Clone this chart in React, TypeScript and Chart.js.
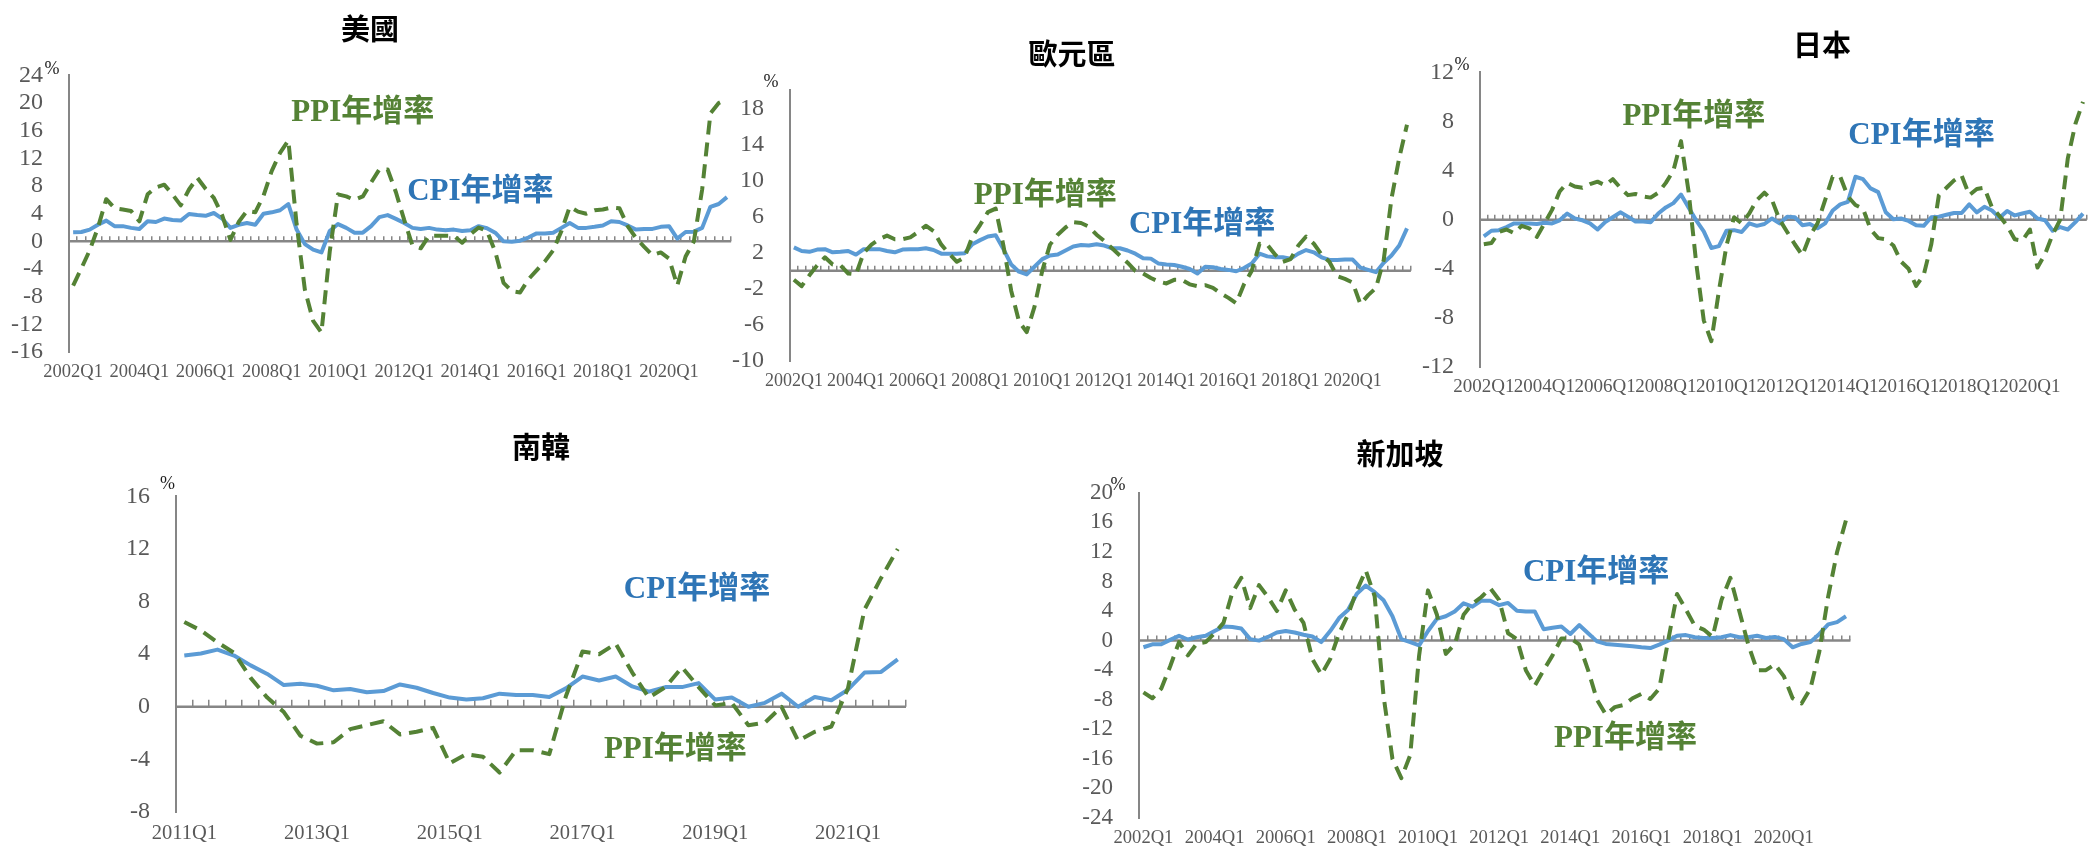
import React, { useEffect, useRef } from "react";
import { Chart, registerables } from "chart.js";

Chart.register(...registerables);

// Quarter category labels, e.g. "2002Q1" ... "2021Q4"
const quarterRange = (from: number, to: number): string[] => {
  const out: string[] = [];
  for (let y = from; y <= to; y++) for (let q = 1; q <= 4; q++) out.push(`${y}Q${q}`);
  return out;
};

const QUARTERS_2002 = quarterRange(2002, 2021);
const QUARTERS_2011 = quarterRange(2011, 2021);

// y-axis tick values per panel
const US_TICKS = [-16, -12, -8, -4, 0, 4, 8, 12, 16, 20, 24];
const EU_TICKS = [-10, -6, -2, 2, 6, 10, 14, 18];
const JP_TICKS = [-12, -8, -4, 0, 4, 8, 12];
const KR_TICKS = [-8, -4, 0, 4, 8, 12, 16];
const SG_TICKS = [-24, -20, -16, -12, -8, -4, 0, 4, 8, 12, 16, 20];

// 美國 (2002Q1–2021Q4), % y/y
const usCpi = [
  1.3, 1.35, 1.7, 2.4, 3.0, 2.2, 2.2, 1.95,
  1.8, 2.9, 2.8, 3.3, 3.1, 3.0, 3.95, 3.8,
  3.7, 4.1, 3.3, 1.95, 2.4, 2.65, 2.4, 4.0,
  4.2, 4.5, 5.4, 1.7, -0.4, -1.2, -1.6, 1.5,
  2.5, 1.95, 1.26, 1.26, 2.2, 3.5, 3.8, 3.25,
  2.65, 1.95, 1.8, 1.95, 1.7, 1.6, 1.7, 1.5,
  1.6, 2.2, 1.9, 1.25, 0.0, -0.05, 0.1, 0.55,
  1.15, 1.15, 1.25, 1.95, 2.65, 1.95, 1.95, 2.1,
  2.3, 2.9, 2.8, 2.3, 1.7, 1.8, 1.8, 2.1,
  2.2, 0.4, 1.35, 1.4, 1.95, 5.0, 5.4, 6.4,
];
const usPpi = [
  -6.4, -3.9, -1.3, 2.0, 6.1, 4.8, 4.6, 4.4,
  2.9, 6.8, 7.8, 8.2, 6.8, 5.2, 7.5, 9.2,
  7.6, 6.3, 3.8, 0.2, 2.8, 4.4, 4.2, 6.6,
  10.2, 12.8, 14.6, 2.5, -7.0, -11.5, -13.2, -1.5,
  6.8, 6.5, 6.0, 6.5, 8.5, 10.4, 10.4, 7.1,
  3.1, -0.6, -1.0, 0.8, 0.8, 0.8, 0.8, -0.2,
  1.0, 2.0, 1.5, -1.5, -6.0, -7.2, -7.4, -5.5,
  -4.2, -2.9, -1.3, 1.5, 5.0, 4.3, 4.0, 4.5,
  4.6, 4.9, 4.8, 2.2, 0.5, -0.8, -2.0, -1.6,
  -2.5, -6.4, -2.2, 0.0, 7.5, 18.5, 20.0, 20.6,
];

// 歐元區 (2002Q1–2021Q4)
const euCpi = [
  2.6, 2.2, 2.1, 2.35, 2.4, 2.05, 2.1, 2.2,
  1.8, 2.4, 2.4, 2.4, 2.2, 2.05, 2.35, 2.4,
  2.4, 2.5, 2.3, 1.9, 1.9, 1.9, 1.95, 2.95,
  3.4, 3.8, 3.95, 2.4, 0.7, -0.1, -0.4, 0.45,
  1.3, 1.7, 1.8, 2.25, 2.7, 2.85, 2.8, 2.95,
  2.8, 2.5, 2.5, 2.25, 1.9, 1.4, 1.35, 0.8,
  0.7, 0.65, 0.45, 0.2, -0.3, 0.45, 0.4, 0.2,
  0.1, -0.05, 0.3, 0.8, 1.9, 1.6, 1.5, 1.5,
  1.35, 1.9, 2.3, 2.05, 1.5, 1.2, 1.2, 1.25,
  1.25, 0.35, 0.1, -0.15, 0.9, 1.7, 2.8, 4.7,
];
const euPpi = [
  -1.0, -1.7, -0.5, 0.6, 1.5, 0.7, 0.6, -0.3,
  -0.4, 2.0, 2.9, 3.5, 3.9, 3.5, 3.5, 3.7,
  4.3, 5.0, 4.4, 2.9, 1.9, 1.0, 1.5, 3.8,
  5.1, 6.5, 6.9, 2.8, -2.2, -5.6, -6.8, -4.0,
  0.0, 2.9, 4.0, 4.8, 5.4, 5.3, 4.9, 4.0,
  3.3, 2.5, 1.7, 0.9, 0.0, -0.3, -0.8, -1.2,
  -1.4, -1.0, -1.0, -1.5, -1.7, -1.6, -1.9, -2.5,
  -3.0, -3.6, -1.5, 0.0, 3.0, 2.9, 1.8, 1.0,
  1.3, 2.8, 3.8, 3.0, 1.8, 1.0, -0.6, -0.9,
  -1.3, -3.7, -2.7, -1.9, 1.2, 8.0, 12.5, 16.2,
];

// 日本 (2002Q1–2021Q4)
const jpCpi = [
  -1.35, -0.9, -0.85, -0.6, -0.3, -0.3, -0.3, -0.35,
  -0.25, -0.3, -0.05, 0.5, 0.1, -0.05, -0.3, -0.8,
  -0.2, 0.2, 0.6, 0.25, -0.15, -0.15, -0.2, 0.5,
  1.0, 1.35, 2.05, 1.0, -0.05, -0.95, -2.3, -2.15,
  -0.9, -0.85, -1.0, -0.3, -0.5, -0.35, 0.1, -0.3,
  0.25, 0.2, -0.45, -0.35, -0.7, -0.3, 0.75, 1.25,
  1.45, 3.5, 3.3, 2.55, 2.25, 0.6, 0.03, 0.1,
  -0.1, -0.45, -0.5, 0.2, 0.25, 0.4, 0.55, 0.55,
  1.25, 0.6, 1.05, 0.75, 0.15, 0.7, 0.35, 0.5,
  0.65, 0.1, -0.05, -0.9, -0.6, -0.8, -0.2, 0.5,
];
const jpPpi = [
  -2.0, -1.9, -1.0, -0.8, -1.1, -0.5, -0.7, -1.4,
  -0.3, 0.8, 2.3, 3.0, 2.7, 2.6, 2.9, 3.1,
  2.8, 3.3, 2.6, 2.0, 2.1, 1.9, 1.8, 2.2,
  3.0, 4.0, 6.4, 2.3, -3.5, -8.2, -9.9, -5.8,
  -2.1, 0.2, -0.3, 0.5, 1.6, 2.2, 1.6, 0.0,
  -1.0, -2.0, -2.9, -1.3, -0.3, 1.6, 3.5, 3.5,
  1.9, 1.2, 0.9, -0.8, -1.5, -1.6, -2.1, -3.4,
  -4.0, -5.4, -4.5, -2.0, 2.0, 2.6, 3.2, 3.6,
  2.0, 2.5, 2.6, 1.0, 0.3, -0.5, -1.6, -1.7,
  -0.8, -3.9, -2.8, -1.2, 0.0, 5.0, 7.8, 9.6,
];

// 南韓 (2011Q1–2021Q4)
const krCpi = [
  3.9, 4.05, 4.35, 3.9, 3.15, 2.5, 1.65, 1.75,
  1.6, 1.25, 1.35, 1.1, 1.2, 1.7, 1.45, 1.05,
  0.7, 0.55, 0.65, 1.0, 0.9, 0.9, 0.75, 1.4,
  2.3, 2.0, 2.3, 1.55, 1.15, 1.5, 1.5, 1.8,
  0.55, 0.7, 0.0, 0.3, 1.0, 0.0, 0.75, 0.5,
  1.3, 2.6, 2.65, 3.6,
];
const krPpi = [
  6.45, 5.8, 4.9, 4.1, 2.2, 0.7, -0.4, -2.2,
  -2.8, -2.7, -1.7, -1.4, -1.1, -2.1, -1.9, -1.6,
  -4.3, -3.6, -3.8, -5.0, -3.3, -3.3, -3.6, 0.8,
  4.2, 4.0, 4.8, 2.6, 0.7, 1.5, 3.0, 1.5,
  0.1, 0.3, -1.4, -1.2, 0.0, -2.6, -1.9, -1.5,
  1.4, 7.4, 9.8, 12.0,
];

// 新加坡 (2002Q1–2021Q4)
const sgCpi = [
  -0.9, -0.5, -0.5, 0.1, 0.65, 0.15, 0.45, 0.65,
  1.3, 1.9, 1.85, 1.65, 0.2, 0.0, 0.5, 1.1,
  1.3, 1.1, 0.8, 0.55, -0.2, 1.3, 3.05, 4.15,
  6.35, 7.45, 6.55, 5.45, 3.3, 0.2, -0.2, -0.65,
  1.3, 2.95, 3.3, 3.95, 5.05, 4.6, 5.4, 5.4,
  4.8, 5.1, 4.05, 3.95, 3.95, 1.55, 1.75, 1.9,
  0.9, 2.1, 1.0, -0.1, -0.45, -0.55, -0.65, -0.75,
  -0.9, -1.0, -0.55, 0.0, 0.65, 0.75, 0.45, 0.35,
  0.35, 0.45, 0.75, 0.45, 0.45, 0.65, 0.35, 0.5,
  0.2, -0.9, -0.45, -0.2, 0.9, 2.2, 2.5, 3.3,
];
const sgPpi = [
  -7.0, -7.8, -6.5, -3.5, -0.2, -2.0, -0.4, -0.2,
  1.0, 2.4, 6.5, 8.5, 4.4, 7.5, 5.9, 4.0,
  6.8, 4.2, 2.4, -2.5, -4.6, -2.5, 1.0, 3.5,
  6.8, 9.5, 6.0, -7.5, -16.0, -18.6, -15.5, -2.0,
  6.8, 3.5, -1.8, -0.5, 3.5, 5.0, 5.9, 7.1,
  5.5, 1.0, 0.2, -4.0, -6.1, -4.0, -2.0, 0.3,
  0.3, -0.5, -4.0, -8.0, -10.0, -9.0, -8.7, -7.8,
  -7.2, -7.9, -6.5, 0.0, 6.3, 4.2, 2.0, 1.5,
  0.5, 5.5, 8.5, 4.0, -0.5, -4.0, -4.0, -3.2,
  -4.8, -7.8, -8.5, -6.5, -1.5, 6.0, 12.0, 16.3,
];

const CPI_LINE = "#5B9BD5";
const PPI_LINE = "#548235";
const CPI_TEXT = "#2E75B6";
const PPI_TEXT = "#548235";
const AXIS_GRAY = "#868686";
const LABEL_GRAY = "#595959";
const CPI_NAME = "CPI年增率";
const PPI_NAME = "PPI年增率";

type Note = { text: string; color: string; index: number; value: number };

type PanelProps = {
  title: string;
  titleX: number;
  titleY: number;
  labels: string[];
  cpi: number[];
  ppi: number[];
  left: number;
  top: number;
  right: number;
  bottom: number;
  yMin: number;
  yMax: number;
  yTicks: number[];
  yFont: number;
  xFont: number;
  pctDx: number;
  pctDy: number;
  tickLen: number;
  notes: Note[];
};

function Panel(p: PanelProps) {
  const ref = useRef<HTMLCanvasElement | null>(null);
  const padL = Math.min(70, p.left);
  const padT = 30;
  const padR = 2;
  const padB = 45;
  const cw = p.right - p.left + padL + padR;
  const ch = p.bottom - p.top + padT + padB;

  useEffect(() => {
    const canvas = ref.current;
    if (!canvas) return;

    // zero line with category tick marks, series notes and the % unit
    const overlay = {
      id: "zeroAxisNotes",
      beforeDatasetsDraw(chart: any) {
        const { ctx, chartArea, scales } = chart;
        const y0 = scales.y.getPixelForValue(0);
        const n = chart.data.labels.length;
        const w = (chartArea.right - chartArea.left) / n;
        ctx.save();
        ctx.strokeStyle = AXIS_GRAY;
        ctx.lineWidth = 1.5;
        ctx.beginPath();
        for (let k = 1; k <= n; k++) {
          const x = Math.round(chartArea.left + k * w) - 0.25;
          ctx.moveTo(x, y0);
          ctx.lineTo(x, y0 - p.tickLen);
        }
        ctx.stroke();
        ctx.lineWidth = 2.5;
        ctx.beginPath();
        ctx.moveTo(chartArea.left, y0);
        ctx.lineTo(chartArea.right, y0);
        ctx.stroke();
        ctx.restore();
      },
      afterDatasetsDraw(chart: any) {
        const { ctx, chartArea, scales } = chart;
        ctx.save();
        ctx.textAlign = "center";
        ctx.textBaseline = "middle";
        ctx.font = 'bold 31px "Liberation Serif", "Noto Sans CJK TC"';
        for (const note of p.notes) {
          ctx.fillStyle = note.color;
          ctx.fillText(note.text, scales.x.getPixelForValue(note.index), scales.y.getPixelForValue(note.value));
        }
        ctx.font = '18px "Liberation Serif"';
        ctx.fillStyle = "#1f1f1f";
        ctx.fillText("%", chartArea.left + p.pctDx, chartArea.top + p.pctDy);
        ctx.restore();
      },
    };

    const chart = new Chart(canvas, {
      type: "line",
      data: {
        labels: p.labels,
        datasets: [
          {
            label: PPI_NAME,
            data: p.ppi,
            borderColor: PPI_LINE,
            borderWidth: 4,
            borderDash: [14, 8],
            pointRadius: 0,
            tension: 0,
            fill: false,
          },
          {
            label: CPI_NAME,
            data: p.cpi,
            borderColor: CPI_LINE,
            borderWidth: 4,
            pointRadius: 0,
            tension: 0,
            fill: false,
          },
        ],
      },
      options: {
        responsive: false,
        animation: false,
        devicePixelRatio: 1,
        events: [],
        layout: { padding: { top: padT, right: padR, left: 0, bottom: 0 } },
        elements: { line: { borderCapStyle: "butt", borderJoinStyle: "round" } },
        plugins: {
          legend: { display: false },
          tooltip: { enabled: false },
          title: { display: false },
        },
        scales: {
          x: {
            type: "category",
            offset: true,
            grid: { display: false, drawTicks: false },
            border: { display: false },
            ticks: {
              autoSkip: false,
              maxRotation: 0,
              minRotation: 0,
              padding: 9,
              color: LABEL_GRAY,
              font: { family: "Liberation Serif", size: p.xFont },
              callback: (_v: any, i: number) => (i % 8 === 0 ? p.labels[i] : ""),
            },
            afterFit: (s: any) => {
              s.height = padB;
            },
          },
          y: {
            min: p.yMin,
            max: p.yMax,
            grid: { display: false, drawTicks: false },
            border: { display: true, color: AXIS_GRAY, width: 2 },
            ticks: {
              autoSkip: false,
              padding: 26,
              color: LABEL_GRAY,
              font: { family: "Liberation Serif", size: p.yFont },
              callback: (v: any) => `${v}`,
            },
            afterBuildTicks: (s: any) => {
              s.ticks = p.yTicks.map((v) => ({ value: v }));
            },
            afterFit: (s: any) => {
              s.width = padL;
            },
          },
        },
      } as any,
      plugins: [overlay],
    });
    return () => chart.destroy();
  }, []);

  return (
    <>
      <canvas
        ref={ref}
        width={cw}
        height={ch}
        style={{ position: "absolute", left: p.left - padL, top: p.top - padT, width: cw, height: ch }}
      />
      <div
        style={{
          position: "absolute",
          left: p.titleX,
          top: p.titleY,
          transform: "translate(-50%, -50%)",
          font: 'bold 29px "Noto Sans CJK TC"',
          color: "#000",
          whiteSpace: "nowrap",
          lineHeight: 1,
        }}
      >
        {p.title}
      </div>
    </>
  );
}

export default function App() {
  return (
    <div
      style={{
        position: "absolute",
        left: 0,
        top: 0,
        width: 2092,
        height: 850,
        overflow: "hidden",
        background: "#ffffff",
      }}
    >
      <Panel
        title="美國"
        titleX={370}
        titleY={27}
        labels={QUARTERS_2002}
        cpi={usCpi}
        ppi={usPpi}
        left={69}
        top={65}
        right={734}
        bottom={352}
        yMin={-16}
        yMax={24}
        yTicks={US_TICKS}
        yFont={24}
        xFont={18.5}
        pctDx={-17}
        pctDy={-6}
        tickLen={5}
        notes={[
          { text: PPI_NAME, color: PPI_TEXT, index: 35.0, value: 18.6 },
          { text: CPI_NAME, color: CPI_TEXT, index: 49.2, value: 7.1 },
        ]}
      />
      <Panel
        title="歐元區"
        titleX={1072}
        titleY={52}
        labels={QUARTERS_2002}
        cpi={euCpi}
        ppi={euPpi}
        left={790}
        top={80}
        right={1414}
        bottom={361}
        yMin={-10}
        yMax={20}
        yTicks={EU_TICKS}
        yFont={24}
        xFont={18}
        pctDx={-19}
        pctDy={-8}
        tickLen={5}
        notes={[
          { text: PPI_NAME, color: PPI_TEXT, index: 32.4, value: 8.3 },
          { text: CPI_NAME, color: CPI_TEXT, index: 52.6, value: 5.1 },
        ]}
      />
      <Panel
        title="日本"
        titleX={1822}
        titleY={43}
        labels={QUARTERS_2002}
        cpi={jpCpi}
        ppi={jpPpi}
        left={1480}
        top={62}
        right={2090}
        bottom={367}
        yMin={-12}
        yMax={12}
        yTicks={JP_TICKS}
        yFont={24}
        xFont={19}
        pctDx={-18}
        pctDy={-7}
        tickLen={5}
        notes={[
          { text: PPI_NAME, color: PPI_TEXT, index: 27.7, value: 8.35 },
          { text: CPI_NAME, color: CPI_TEXT, index: 57.7, value: 6.8 },
        ]}
      />
      <Panel
        title="南韓"
        titleX={541}
        titleY={445}
        labels={QUARTERS_2011}
        cpi={krCpi}
        ppi={krPpi}
        left={176}
        top={486}
        right={906}
        bottom={812}
        yMin={-8}
        yMax={16}
        yTicks={KR_TICKS}
        yFont={24}
        xFont={20.5}
        pctDx={-8.5}
        pctDy={-12}
        tickLen={7}
        notes={[
          { text: CPI_NAME, color: CPI_TEXT, index: 30.9, value: 8.9 },
          { text: PPI_NAME, color: PPI_TEXT, index: 29.6, value: -3.3 },
        ]}
      />
      <Panel
        title="新加坡"
        titleX={1400}
        titleY={452}
        labels={QUARTERS_2002}
        cpi={sgCpi}
        ppi={sgPpi}
        left={1139}
        top={483}
        right={1853}
        bottom={818}
        yMin={-24}
        yMax={20}
        yTicks={SG_TICKS}
        yFont={23}
        xFont={18.6}
        pctDx={-21}
        pctDy={-8}
        tickLen={5}
        notes={[
          { text: CPI_NAME, color: CPI_TEXT, index: 50.9, value: 9.1 },
          { text: PPI_NAME, color: PPI_TEXT, index: 54.2, value: -13.3 },
        ]}
      />
    </div>
  );
}
